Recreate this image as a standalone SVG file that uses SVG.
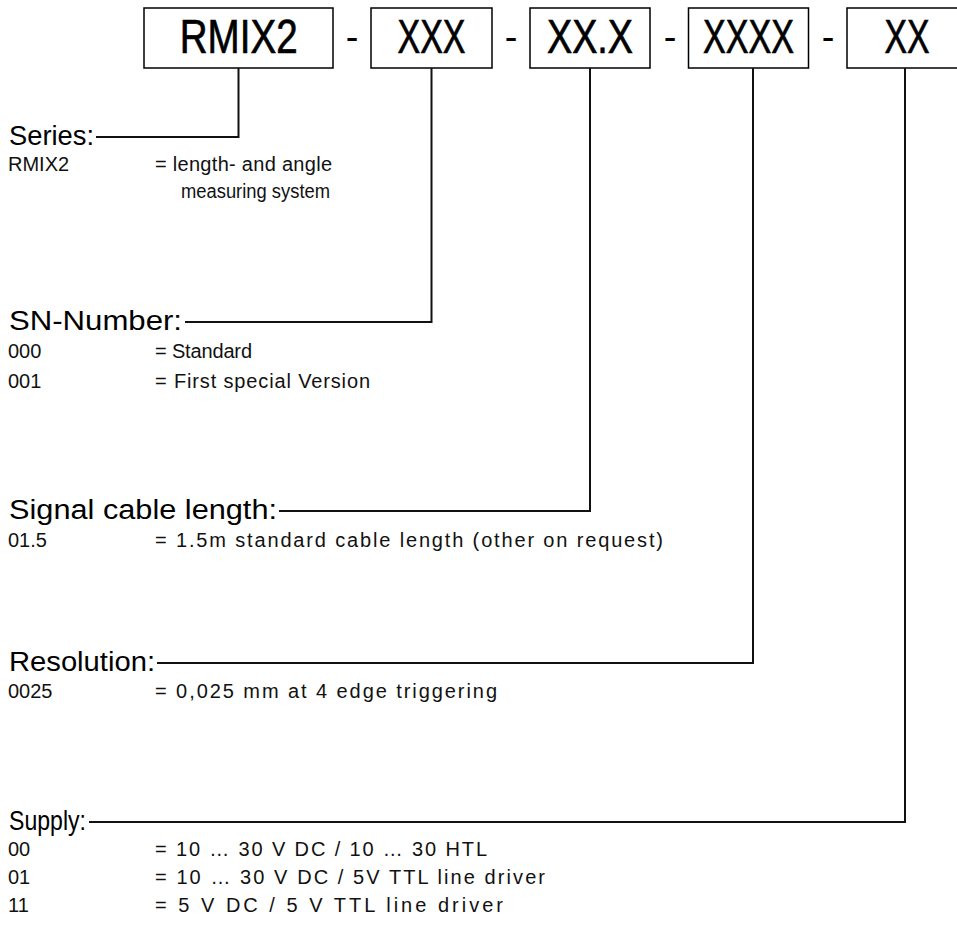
<svg xmlns="http://www.w3.org/2000/svg" width="957" height="931" viewBox="0 0 957 931">
<style>
.box{fill:#fff;stroke:#000;stroke-width:1.5}
.code{font-family:"Liberation Sans",Arial,sans-serif;font-size:48px;fill:#000;stroke:#000;stroke-width:0.7}
.dash{font-family:"Liberation Sans",Arial,sans-serif;font-size:38px;fill:#000}
.head{font-family:"Liberation Sans",Arial,sans-serif;font-size:27px;fill:#000}
.body{font-family:"Liberation Sans",Arial,sans-serif;font-size:20px;fill:#111}
.conn{fill:none;stroke:#111;stroke-width:2}
</style>
<rect width="957" height="931" fill="#fff"/>
<g id="box-series">
<rect class="box" x="144" y="8" width="189" height="60"/>
<text class="code" transform="translate(179.7,53) scale(0.804,1)">RMIX2</text>
</g>
<text class="dash" x="345.7" y="50">-</text>
<g id="box-sn">
<rect class="box" x="371" y="8" width="121" height="60"/>
<text class="code" transform="translate(397.5,53) scale(0.708,1)">XXX</text>
</g>
<text class="dash" x="504.7" y="50">-</text>
<g id="box-cable">
<rect class="box" x="530" y="8" width="120" height="60"/>
<text class="code" transform="translate(547,53) scale(0.786,1)">XX.X</text>
</g>
<text class="dash" x="663.7" y="50">-</text>
<g id="box-res">
<rect class="box" x="688.5" y="8" width="120" height="60"/>
<text class="code" transform="translate(703,53) scale(0.711,1)">XXXX</text>
</g>
<text class="dash" x="821.7" y="50">-</text>
<g id="box-supply">
<rect class="box" x="847" y="8" width="120" height="60"/>
<text class="code" transform="translate(884.5,53) scale(0.703,1)">XX</text>
</g>
<g id="connectors">
<polyline class="conn" points="238.5,68 238.5,137 96,137"/>
<polyline class="conn" points="431.5,68 431.5,322 185,322"/>
<polyline class="conn" points="590,68 590,511 279,511"/>
<polyline class="conn" points="753,68 753,663 157,663"/>
<polyline class="conn" points="905,68 905,822 89,822"/>
</g>
<g id="series">
<text class="head" x="9" y="145" textLength="85" lengthAdjust="spacingAndGlyphs">Series:</text>
<text class="body" x="8" y="171">RMIX2</text>
<text class="body" x="155" y="171" textLength="177">= length- and angle</text>
<text class="body" x="181" y="198" textLength="149" lengthAdjust="spacingAndGlyphs">measuring system</text>
</g>
<g id="sn-number">
<text class="head" x="9" y="330" textLength="173" lengthAdjust="spacingAndGlyphs">SN-Number:</text>
<text class="body" x="8" y="358">000</text>
<text class="body" x="155" y="358" textLength="97">= Standard</text>
<text class="body" x="8" y="388">001</text>
<text class="body" x="155" y="388" textLength="215">= First special Version</text>
</g>
<g id="cable">
<text class="head" x="9" y="519" textLength="268" lengthAdjust="spacingAndGlyphs">Signal cable length:</text>
<text class="body" x="8" y="547">01.5</text>
<text class="body" x="155" y="547" textLength="508">= 1.5m standard cable length (other on request)</text>
</g>
<g id="resolution">
<text class="head" x="9" y="671" textLength="146" lengthAdjust="spacingAndGlyphs">Resolution:</text>
<text class="body" x="8" y="698">0025</text>
<text class="body" x="155" y="698" textLength="342">= 0,025 mm at 4 edge triggering</text>
</g>
<g id="supply">
<text class="head" x="9" y="830" textLength="77" lengthAdjust="spacingAndGlyphs">Supply:</text>
<text class="body" x="8" y="856">00</text>
<text class="body" x="155" y="856" textLength="332">= 10 … 30 V DC / 10 … 30 HTL</text>
<text class="body" x="8" y="884">01</text>
<text class="body" x="155" y="884" textLength="390">= 10 … 30 V DC / 5V TTL line driver</text>
<text class="body" x="8" y="912">11</text>
<text class="body" x="155" y="912" textLength="348">= 5 V DC / 5 V TTL line driver</text>
</g>
</svg>
